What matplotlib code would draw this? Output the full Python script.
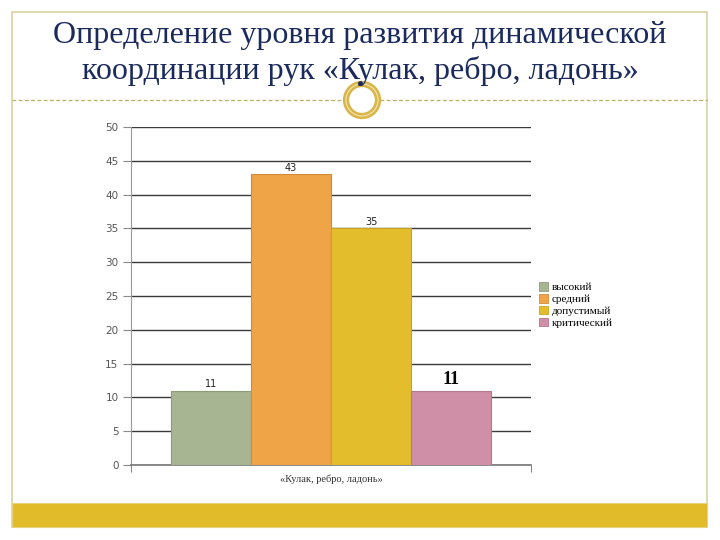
import matplotlib
matplotlib.use("Agg")
import matplotlib.pyplot as plt
from matplotlib.patches import Rectangle, Circle, Patch
from matplotlib.lines import Line2D

title_lines = ["Определение уровня развития динамической",
               "координации рук «Кулак, ребро, ладонь»"]
category = "«Кулак, ребро, ладонь»"
series_names = ["высокий", "средний", "допустимый", "критический"]
values = [11, 43, 35, 11]
colors = ["#a7b592", "#f0a448", "#e3bd2c", "#cf8fa7"]
edge_colors = ["#8f9c7c", "#cf8a3a", "#c9a524", "#b37a90"]
yticks = [0, 5, 10, 15, 20, 25, 30, 35, 40, 45, 50]

W, H = 720, 540
fig = plt.figure(figsize=(7.2, 5.4), dpi=100)
fig.patch.set_facecolor("white")

def fx(x): return x / W
def fy(y): return 1 - y / H

# slide frame
fig.add_artist(Rectangle((fx(12), fy(527)), fx(707) - fx(12), fy(12) - fy(527),
                         transform=fig.transFigure, fill=False,
                         edgecolor="#d9d2a2", lw=1.2))
# bottom band
fig.add_artist(Rectangle((fx(12), fy(527)), fx(707) - fx(12), fy(503) - fy(527),
                         transform=fig.transFigure, facecolor="#e2bb2b",
                         edgecolor="#e8d37a", lw=0.8))
# dashed separator
for x0, x1 in [(12, 344), (380, 707)]:
    fig.add_artist(Line2D([fx(x0), fx(x1)], [fy(100), fy(100)],
                          transform=fig.transFigure, color="#b9b060",
                          lw=0.9, ls=(0, (3, 2))))
# circle ornament
ax_c = fig.add_axes([fx(330), fy(132), fx(64), fy(68) - fy(132)])
ax_c.set_xlim(-1, 1); ax_c.set_ylim(-1, 1); ax_c.set_aspect("equal"); ax_c.axis("off")
ax_c.add_patch(Circle((0, 0), 0.5, fill=False, edgecolor="#d9b54a", lw=4.5))
ax_c.add_patch(Circle((0, 0), 0.5, fill=False, edgecolor="#f5e6b0", lw=0.8))
ax_c.plot([-0.05], [0.52], marker="o", ms=2.5, color="#1a2a5a")

# title
for i, line in enumerate(title_lines):
    fig.text(0.5, fy(36 + 35 * i), line, ha="center", va="center",
             fontsize=23, color="#1b2a5c", family="Liberation Serif")

# chart axes
ax = fig.add_axes([fx(131), fy(465), fx(531) - fx(131), fy(127) - fy(465)])
n = len(values)
xs = [i + 1 for i in range(n)]
ax.bar(xs, values, width=1.0, color=colors, edgecolor=edge_colors, lw=0.8, zorder=3)
ax.set_xlim(0, n + 1)
ax.set_ylim(0, 50)
ax.set_yticks(yticks)
ax.set_yticklabels([str(t) for t in yticks], fontsize=7.5, color="#555555",
                   family="DejaVu Sans")
ax.yaxis.grid(True, color="#3a3a3a", lw=1.0, zorder=0)
ax.set_axisbelow(True)
ax.tick_params(axis="y", length=6, width=0.8, color="#888888", pad=3)
ax.set_xticks([0, n + 1])
ax.set_xticklabels(["", ""])
ax.tick_params(axis="x", length=5, width=0.8, color="#888888", pad=0)
for s in ["top", "right"]:
    ax.spines[s].set_visible(False)
ax.spines["left"].set_color("#999999")
ax.spines["bottom"].set_color("#777777")
ax.spines["bottom"].set_linewidth(1.2)
ax.set_facecolor("white")
ax.set_xlabel(category, fontsize=7.5, family="Liberation Serif", color="#333333", labelpad=2)

for i, (x, v) in enumerate(zip(xs, values)):
    if i == n - 1:
        ax.text(x, v + 0.4, str(v), ha="center", va="bottom", fontsize=13,
                family="Liberation Serif", fontweight="bold", color="black")
    else:
        ax.text(x, v + 0.2, str(v), ha="center", va="bottom", fontsize=7,
                family="DejaVu Sans", color="#222222")

handles = [Patch(facecolor=c, edgecolor=e, lw=0.6) for c, e in zip(colors, edge_colors)]
fig.legend(handles, series_names, loc="upper left",
           bbox_to_anchor=(fx(537), fy(280)), frameon=False,
           prop={"family": "Liberation Serif", "size": 8},
           handlelength=0.8, handleheight=0.8, handletextpad=0.3,
           labelspacing=0.15, borderaxespad=0, borderpad=0.2)

fig.savefig("out.png", dpi=100, facecolor="white")
